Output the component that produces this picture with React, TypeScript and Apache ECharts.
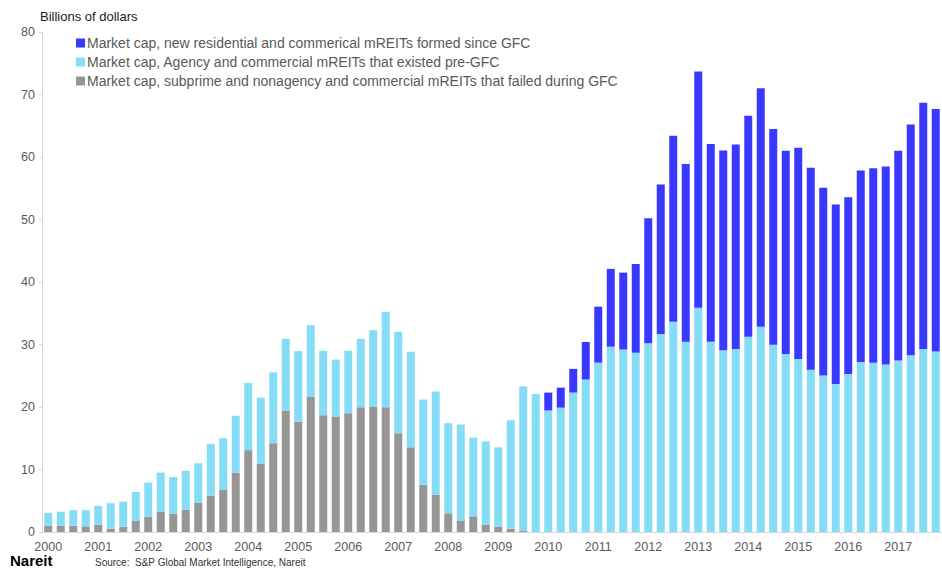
import React, { useEffect, useRef } from "react";
import * as echarts from "echarts";

const years = [2000, 2001, 2002, 2003, 2004, 2005, 2006, 2007, 2008, 2009, 2010, 2011, 2012, 2013, 2014, 2015, 2016, 2017];
const quarters = ["Q1", "Q2", "Q3", "Q4"];
const categories: string[] = years.flatMap((y) => quarters.map((q) => `${y} ${q}`));

// Billions of dollars, stacked segments (bottom to top)
const failedDuringGFC: (number | null)[] = [
  1.0, 1.0, 1.0, 0.9, 1.15, 0.55, 0.85, 1.8,
  2.45, 3.25, 2.95, 3.55, 4.65, 5.8, 6.75, 9.5,
  13.1, 10.95, 14.2, 19.45, 17.7, 21.6, 18.7, 18.5,
  19.0, 19.95, 20.1, 19.95, 15.8, 13.55, 7.55, 5.95,
  3.0, 1.85, 2.5, 1.2, 0.85, 0.55, 0.25, null,
  null, null, null, null, null, null, null, null,
  null, null, null, null, null, null, null, null,
  null, null, null, null, null, null, null, null,
  null, null, null, null, null, null, null, null,
];

const existedPreGFC: number[] = [
  2.05, 2.25, 2.5, 2.6, 3.05, 4.05, 4.0, 4.6,
  5.45, 6.25, 5.85, 6.25, 6.35, 8.3, 8.25, 9.1,
  10.75, 10.55, 11.35, 11.45, 11.25, 11.5, 10.3, 9.1,
  10.0, 10.95, 12.2, 15.3, 16.25, 15.3, 13.65, 16.55,
  14.4, 15.35, 12.6, 13.3, 12.7, 17.35, 23.05, 22.1,
  19.45, 19.9, 22.3, 24.4, 27.1, 29.65, 29.2, 28.7,
  30.2, 31.7, 33.65, 30.45, 35.9, 30.45, 29.1, 29.3,
  31.25, 32.85, 29.95, 28.5, 27.7, 25.95, 25.05, 23.7,
  25.3, 27.2, 27.1, 26.8, 27.45, 28.3, 29.3, 28.9,
];

const formedSinceGFC: (number | null)[] = [
  null, null, null, null, null, null, null, null,
  null, null, null, null, null, null, null, null,
  null, null, null, null, null, null, null, null,
  null, null, null, null, null, null, null, null,
  null, null, null, null, null, null, null, null,
  2.85, 3.2, 3.8, 6.0, 8.95, 12.45, 12.3, 14.2,
  20.0, 23.9, 29.75, 28.45, 37.8, 31.65, 31.95, 32.7,
  35.35, 38.15, 34.55, 32.5, 33.8, 32.35, 30.05, 28.7,
  28.25, 30.65, 31.1, 31.7, 33.55, 36.9, 39.4, 38.8,
];

const seriesNames = [
  "Market cap, new residential and commerical mREITs formed since GFC",
  "Market cap, Agency and commercial mREITs that existed pre-GFC",
  "Market cap, subprime and nonagency and commercial mREITs that failed during GFC",
];

const yTicks = { min: 0, max: 80, interval: 10 };

export default function App() {
  const ref = useRef<HTMLDivElement>(null);
  useEffect(() => {
    if (!ref.current) return;
    const chart = echarts.init(ref.current, undefined, { renderer: "svg" });
    const font = "'Liberation Sans', Arial, sans-serif";
    const barW = 8;
    chart.setOption({
      animation: false,
      textStyle: { fontFamily: font },
      grid: { left: 42, right: 0, top: 32, bottom: 37, containLabel: false },
      legend: {
        orient: "vertical",
        left: 71,
        top: 31,
        itemWidth: 9,
        itemHeight: 9,
        itemGap: 5,
        icon: "rect",
        data: seriesNames,
        textStyle: { fontSize: 14, color: "#595959", fontFamily: font, padding: [0, 0, 0, -3] },
      },
      xAxis: {
        type: "category",
        data: categories,
        axisLine: { lineStyle: { color: "#d9d9d9", width: 1 } },
        axisTick: { show: false },
        axisLabel: {
          interval: 0,
          fontSize: 12.5,
          lineHeight: 13,
          color: "#595959",
          margin: 8,
          formatter: (v: string) => (v.endsWith("Q1") ? v.slice(0, 4) : ""),
        },
      },
      yAxis: {
        type: "value",
        min: yTicks.min,
        max: yTicks.max,
        interval: yTicks.interval,
        axisLine: { show: true, lineStyle: { color: "#d9d9d9" } },
        axisTick: { show: true, length: 3, lineStyle: { color: "#d9d9d9" } },
        splitLine: { show: false },
        axisLabel: { fontSize: 12.5, color: "#595959", margin: 7 },
      },
      series: [
        {
          name: seriesNames[2],
          type: "bar",
          stack: "cap",
          barWidth: barW,
          data: failedDuringGFC,
          itemStyle: { color: "#969696" },
        },
        {
          name: seriesNames[1],
          type: "bar",
          stack: "cap",
          barWidth: barW,
          data: existedPreGFC,
          itemStyle: { color: "#84dcf6" },
        },
        {
          name: seriesNames[0],
          type: "bar",
          stack: "cap",
          barWidth: barW,
          data: formedSinceGFC,
          itemStyle: { color: "#3838ff" },
        },
      ],
      graphic: [
        {
          type: "text",
          left: 40,
          top: 10,
          style: { text: "Billions of dollars", fontSize: 13, fill: "#1a1a1a", fontFamily: font },
        },
        {
          type: "text",
          x: 10,
          y: 560,
          style: {
            text: "Nareit",
            fontSize: 15,
            fontWeight: "bold",
            fill: "#000",
            fontFamily: font,
            align: "left",
            verticalAlign: "middle",
          },
        },
        {
          type: "text",
          left: 95,
          top: 557,
          style: {
            text: "Source:  S&P Global Market Intelligence, Nareit",
            fontSize: 10,
            fill: "#333",
            fontFamily: font,
          },
        },
      ],
    });
    return () => chart.dispose();
  }, []);
  return (
    <div
      ref={ref}
      style={{ position: "fixed", left: 0, top: 0, width: 942, height: 569, background: "#fff" }}
    />
  );
}
